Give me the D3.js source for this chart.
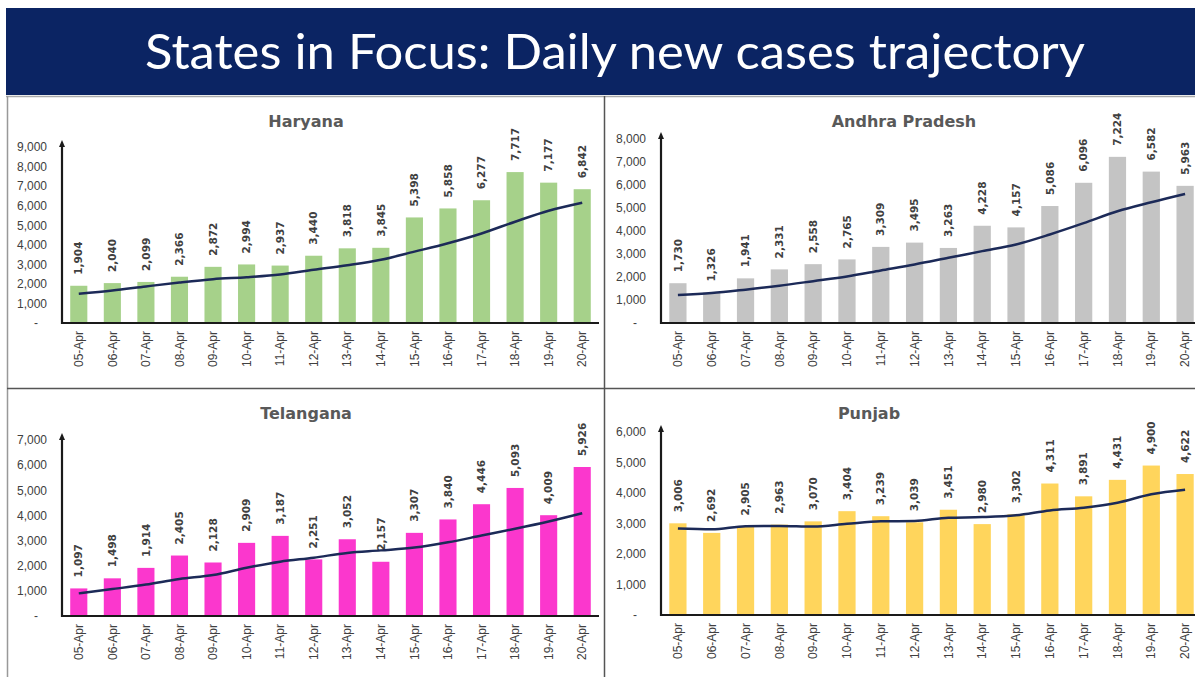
<!DOCTYPE html>
<html lang="en">
<head>
    <meta charset="UTF-8">
    <title>States in Focus: Daily new cases trajectory</title>
    <script src="https://d3js.org/d3.v7.min.js"></script>
    <style>
        body {
            margin: 0;
            background-color: #ffffff;
            font-family: 'DejaVu Sans', sans-serif;
        }
        .tick-label { fill: #404040; font-size: 12px; }
        .x-label { fill: #404040; font-size: 12px; }
        .data-label { fill: #404040; font-size: 10.5px; font-weight: bold; }
        .panel-title { fill: #595959; font-size: 16px; font-weight: bold; }
    </style>
</head>
<body>
    <div id="chart"></div>
    <script>
        // Dates on the x axis (same for every state)
        const dates = ["05-Apr", "06-Apr", "07-Apr", "08-Apr", "09-Apr", "10-Apr", "11-Apr", "12-Apr",
                       "13-Apr", "14-Apr", "15-Apr", "16-Apr", "17-Apr", "18-Apr", "19-Apr", "20-Apr"];

        // Daily new cases per state
        const haryanaCases = [1904, 2040, 2099, 2366, 2872, 2994, 2937, 3440, 3818, 3845, 5398, 5858, 6277, 7717, 7177, 6842];
        const andhraCases = [1730, 1326, 1941, 2331, 2558, 2765, 3309, 3495, 3263, 4228, 4157, 5086, 6096, 7224, 6582, 5963];
        const telanganaCases = [1097, 1498, 1914, 2405, 2128, 2909, 3187, 2251, 3052, 2157, 3307, 3840, 4446, 5093, 4009, 5926];
        const punjabCases = [3006, 2692, 2905, 2963, 3070, 3404, 3239, 3039, 3451, 2980, 3302, 4311, 3891, 4431, 4900, 4622];

        // Trend line
        const haryanaTrend = [1500, 1660, 1870, 2070, 2240, 2340, 2480, 2720, 2950, 3230, 3650, 4080, 4580, 5180, 5740, 6150];
        const andhraTrend = [1215, 1300, 1450, 1620, 1820, 2025, 2285, 2545, 2835, 3125, 3415, 3850, 4340, 4860, 5250, 5610];
        const telanganaTrend = [900, 1070, 1250, 1470, 1630, 1920, 2160, 2320, 2510, 2610, 2720, 2930, 3200, 3470, 3760, 4090];
        const punjabTrend = [2835, 2810, 2910, 2920, 2900, 2990, 3070, 3080, 3190, 3210, 3270, 3430, 3520, 3680, 3960, 4110];

        // Y axis ticks
        const haryanaTicks = [0, 1000, 2000, 3000, 4000, 5000, 6000, 7000, 8000, 9000];
        const andhraTicks = [0, 1000, 2000, 3000, 4000, 5000, 6000, 7000, 8000];
        const telanganaTicks = [0, 1000, 2000, 3000, 4000, 5000, 6000, 7000];
        const punjabTicks = [0, 1000, 2000, 3000, 4000, 5000, 6000];

        const W = 1195, H = 677;

        const panels = [
            { title: "Haryana", cases: haryanaCases, trend: haryanaTrend, ticks: haryanaTicks, color: "#a6d18a",
              x0: 62, x1: 599, yTop: 147, yBot: 323, titleX: 306, titleY: 121 },
            { title: "Andhra Pradesh", cases: andhraCases, trend: andhraTrend, ticks: andhraTicks, color: "#c4c4c4",
              x0: 661, x1: 1202, yTop: 139, yBot: 323, titleX: 904, titleY: 121 },
            { title: "Telangana", cases: telanganaCases, trend: telanganaTrend, ticks: telanganaTicks, color: "#fb37cd",
              x0: 62, x1: 599, yTop: 440, yBot: 616, titleX: 306, titleY: 413 },
            { title: "Punjab", cases: punjabCases, trend: punjabTrend, ticks: punjabTicks, color: "#ffd55c",
              x0: 661, x1: 1202, yTop: 432, yBot: 615, titleX: 869, titleY: 413 }
        ];

        const svg = d3.select("#chart")
            .append("svg")
            .attr("width", W)
            .attr("height", H);

        svg.append("rect").attr("width", W).attr("height", H).attr("fill", "#fff");

        // header band
        svg.append("rect")
            .attr("x", 6).attr("y", 8)
            .attr("width", W - 6).attr("height", 87)
            .attr("fill", "#0b2463");

        svg.append("text")
            .attr("x", 145).attr("y", 69)
            .attr("textLength", 940)
            .attr("lengthAdjust", "spacingAndGlyphs")
            .style("font-family", "'Gill Sans MT', 'Gill Sans', Lato, sans-serif")
            .style("font-size", "48px")
            .attr("fill", "#ffffff")
            .text("States in Focus: Daily new cases trajectory");

        // panel borders
        const border = svg.append("g").attr("stroke", "#555").attr("stroke-width", 1.5);
        border.append("line").attr("x1", 6).attr("x2", W).attr("y1", 96.5).attr("y2", 96.5).attr("stroke", "#aaa");
        border.append("line").attr("x1", 7.5).attr("x2", 7.5).attr("y1", 96).attr("y2", H).attr("stroke", "#999");
        border.append("line").attr("x1", 604.5).attr("x2", 604.5).attr("y1", 96).attr("y2", H);
        border.append("line").attr("x1", 7).attr("x2", W).attr("y1", 388.5).attr("y2", 388.5);

        panels.forEach(p => {
            const g = svg.append("g");
            const yMax = p.ticks[p.ticks.length - 1];

            const x = d3.scaleBand().domain(dates).range([p.x0, p.x1])
                .paddingInner(0.49).paddingOuter(0.245);
            const y = d3.scaleLinear().domain([0, yMax]).range([p.yBot, p.yTop]);
            const cx = i => x(dates[i]) + x.bandwidth() / 2;

            // bars
            g.selectAll(".bar")
                .data(p.cases)
                .join("rect")
                .attr("class", "bar")
                .attr("x", (d, i) => x(dates[i]))
                .attr("y", d => y(d))
                .attr("width", x.bandwidth())
                .attr("height", d => p.yBot - y(d))
                .attr("fill", p.color);

            // value labels above bars
            g.selectAll(".data-label")
                .data(p.cases)
                .join("text")
                .attr("class", "data-label")
                .attr("transform", (d, i) => `translate(${cx(i)},${y(d) - 11}) rotate(-90)`)
                .attr("dy", "0.35em")
                .text(d => d3.format(",")(d));

            // trend line
            const line = d3.line()
                .x((d, i) => cx(i))
                .y(d => y(d))
                .curve(d3.curveMonotoneX);
            g.append("path")
                .datum(p.trend)
                .attr("d", line)
                .attr("fill", "none")
                .attr("stroke", "#1c2a58")
                .attr("stroke-width", 2.5);

            // y axis
            const yAxis = d3.axisLeft(y)
                .tickValues(p.ticks)
                .tickSize(0)
                .tickPadding(15)
                .tickFormat(d => d === 0 ? "-" : d3.format(",")(d));
            const ya = g.append("g")
                .attr("transform", `translate(${p.x0},0)`)
                .call(yAxis);
            ya.select(".domain").remove();
            ya.selectAll("text").attr("class", "tick-label").style("font-family", null).style("font-size", null)
                .attr("x", d => d === 0 ? -24 : -15);

            // x axis labels
            const xAxis = d3.axisBottom(x).tickSize(0).tickPadding(0);
            const xa = g.append("g")
                .attr("transform", `translate(0,${p.yBot})`)
                .call(xAxis);
            xa.select(".domain").remove();
            xa.selectAll("text")
                .attr("class", "x-label")
                .attr("y", 0)
                .attr("dy", "0.35em")
                .attr("text-anchor", "end")
                .attr("transform", "translate(0,8) rotate(-90)");

            // axis lines
            g.append("line")
                .attr("x1", p.x0).attr("x2", p.x1)
                .attr("y1", p.yBot).attr("y2", p.yBot)
                .attr("stroke", "#1a1a1a").attr("stroke-width", 2.2);
            g.append("line")
                .attr("x1", p.x0).attr("x2", p.x0)
                .attr("y1", p.yBot + 1).attr("y2", p.yTop - 2)
                .attr("stroke", "#1a1a1a").attr("stroke-width", 2.2);
            g.append("path")
                .attr("d", `M${p.x0 - 3},${p.yTop} L${p.x0},${p.yTop - 7} L${p.x0 + 3},${p.yTop} Z`)
                .attr("fill", "#1a1a1a");

            g.append("text")
                .attr("class", "panel-title")
                .attr("x", p.titleX).attr("y", p.titleY)
                .attr("dy", "0.35em")
                .attr("text-anchor", "middle")
                .text(p.title);
        });
    </script>
</body>
</html>
